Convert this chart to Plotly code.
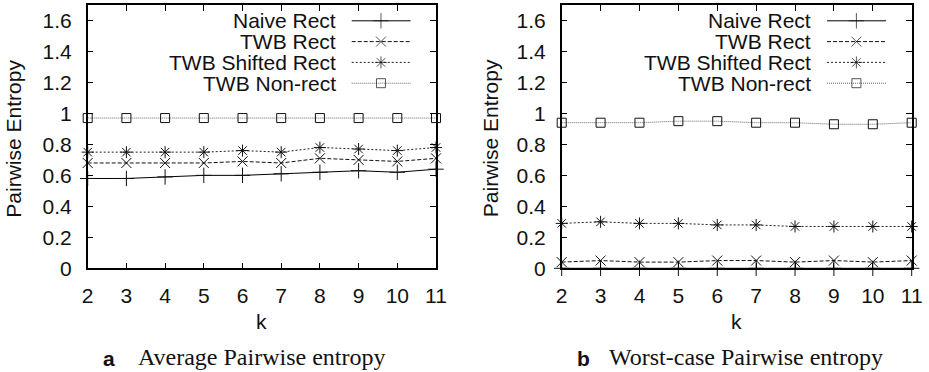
import plotly.graph_objects as go

# ---------------- data ----------------
k_values = [2, 3, 4, 5, 6, 7, 8, 9, 10, 11]
series_names = ["Naive Rect", "TWB Rect", "TWB Shifted Rect", "TWB Non-rect"]

avg_naive_rect = [0.58, 0.58, 0.59, 0.60, 0.60, 0.61, 0.62, 0.63, 0.62, 0.64]
avg_twb_rect = [0.68, 0.68, 0.68, 0.68, 0.69, 0.68, 0.71, 0.70, 0.69, 0.71]
avg_twb_shifted = [0.75, 0.75, 0.75, 0.75, 0.76, 0.75, 0.78, 0.77, 0.76, 0.78]
avg_twb_nonrect = [0.97, 0.97, 0.97, 0.97, 0.97, 0.97, 0.97, 0.97, 0.97, 0.97]

worst_naive_rect = [0.0, 0.0, 0.0, 0.0, 0.0, 0.0, 0.0, 0.0, 0.0, 0.0]
worst_twb_rect = [0.04, 0.05, 0.04, 0.04, 0.05, 0.05, 0.04, 0.05, 0.04, 0.05]
worst_twb_shifted = [0.29, 0.30, 0.29, 0.29, 0.28, 0.28, 0.27, 0.27, 0.27, 0.27]
worst_twb_nonrect = [0.94, 0.94, 0.94, 0.95, 0.95, 0.94, 0.94, 0.93, 0.93, 0.94]

y_tick_values = [0, 0.2, 0.4, 0.6, 0.8, 1.0, 1.2, 1.4, 1.6]
x_title = "k"
y_title = "Pairwise Entropy"
caption_letters = ["a", "b"]
caption_texts = ["Average Pairwise entropy", "Worst-case Pairwise entropy"]

# ---------------- layout helpers ----------------
W, H = 929, 372
def px(x):
    return x / W
def py(y):
    return 1 - y / H

SANS = "Liberation Sans, Arial, Helvetica, sans-serif"
SERIF = "Liberation Serif, Times New Roman, serif"
FS = 21

styles = [
    dict(dash="solid", symbol="cross-thin-open", color="#000000", size=11),
    dict(dash="4px,2px", symbol="x-thin-open", color="#111111", size=10),
    dict(dash="2px,2px", symbol="asterisk-open", color="#222222", size=10),
    dict(dash="1px,1px", symbol="square-open", color="#666666", size=9),
]

panels = [
    dict(data=[avg_naive_rect, avg_twb_rect, avg_twb_shifted, avg_twb_nonrect],
         xl=87.7, xr=436.0),
    dict(data=[worst_naive_rect, worst_twb_rect, worst_twb_shifted, worst_twb_nonrect],
         xl=561.7, xr=911.7),
]
TOP, BOT = 5.0, 268.3

fig = go.Figure()
annotations = []

for pi, p in enumerate(panels):
    xa = "x" if pi == 0 else "x2"
    ya = "y" if pi == 0 else "y2"
    xo = "x3" if pi == 0 else "x4"
    yo = "y3" if pi == 0 else "y4"
    for si, vals in enumerate(p["data"]):
        st = styles[si]
        fig.add_trace(go.Scatter(
            x=k_values, y=vals, xaxis=xa, yaxis=ya, mode="lines+markers",
            line=dict(color=st["color"], width=1, dash=st["dash"]),
            marker=dict(symbol=st["symbol"], size=st["size"], color="#111111",
                        line=dict(color="#111111", width=1)),
            cliponaxis=False, showlegend=False, name=series_names[si]))
    # custom gnuplot-style legend (text left, sample right)
    rows = [0.940, 0.861, 0.782, 0.703]
    for si, name in enumerate(series_names):
        st = styles[si]
        fig.add_trace(go.Scatter(
            x=[0.758, 0.842, 0.927], y=[rows[si]] * 3, xaxis=xo, yaxis=yo,
            mode="lines+markers",
            line=dict(color=st["color"], width=1, dash=st["dash"]),
            marker=dict(symbol=st["symbol"], size=[0, st["size"], 0], color="#111111",
                        line=dict(color="#111111", width=1)),
            cliponaxis=False, showlegend=False, hoverinfo="skip"))
        annotations.append(dict(
            x=0.718, y=rows[si], xref=xo, yref=yo, text=name, showarrow=False,
            xanchor="right", yanchor="middle", font=dict(family=SANS, size=FS, color="#111")))
    # axis titles
    cx = (p["xl"] + p["xr"]) / 2
    annotations.append(dict(x=px(cx), y=py(321), xref="paper", yref="paper", text=x_title,
                            showarrow=False, xanchor="center", yanchor="middle",
                            font=dict(family=SANS, size=FS, color="#111")))
    ytx = 14 if pi == 0 else 490.5
    annotations.append(dict(x=px(ytx), y=py((TOP + BOT) / 2 + 2), xref="paper", yref="paper",
                            text=y_title, textangle=-90, showarrow=False,
                            xanchor="center", yanchor="middle",
                            font=dict(family=SANS, size=FS, color="#111")))

# captions
cap_letter_x = [109, 583.5]
cap_text_x = [136, 607]
for i in range(2):
    annotations.append(dict(x=px(cap_letter_x[i]), y=py(358), xref="paper", yref="paper",
                            text="<b>" + caption_letters[i] + "</b>", showarrow=False,
                            xanchor="center", yanchor="middle",
                            font=dict(family=SANS, size=21, color="#111")))
    annotations.append(dict(x=px(cap_text_x[i]), y=py(357), xref="paper", yref="paper",
                            text=caption_texts[i], showarrow=False,
                            xanchor="left", yanchor="middle",
                            font=dict(family=SERIF, size=24, color="#111")))

axis_common = dict(showgrid=False, zeroline=False, showline=True, linecolor="#000",
                   linewidth=1.5, mirror="ticks", ticks="inside", ticklen=6,
                   tickcolor="#000", tickwidth=1,
                   tickfont=dict(family=SANS, size=FS, color="#111"), automargin=False)

layout = dict(
    width=W, height=H, margin=dict(l=0, r=0, t=0, b=0),
    paper_bgcolor="white", plot_bgcolor="white", showlegend=False,
    annotations=annotations,
)
for pi, p in enumerate(panels):
    suffix = "" if pi == 0 else "2"
    layout["xaxis" + suffix] = dict(axis_common, domain=[px(p["xl"]), px(p["xr"])],
                                    range=[2, 11], tickvals=k_values,
                                    anchor="y" + suffix, ticklabelstandoff=8)
    layout["yaxis" + suffix] = dict(axis_common, domain=[py(BOT), py(TOP)],
                                    range=[0, 1.7], tickvals=y_tick_values,
                                    anchor="x" + suffix, ticklabelstandoff=10)
    osuf = "3" if pi == 0 else "4"
    layout["xaxis" + osuf] = dict(overlaying="x" + suffix, range=[0, 1], visible=False,
                                  anchor="y" + osuf)
    layout["yaxis" + osuf] = dict(overlaying="y" + suffix, range=[0, 1], visible=False,
                                  anchor="x" + osuf)

fig.update_layout(**layout)
fig.write_html("out.html")
